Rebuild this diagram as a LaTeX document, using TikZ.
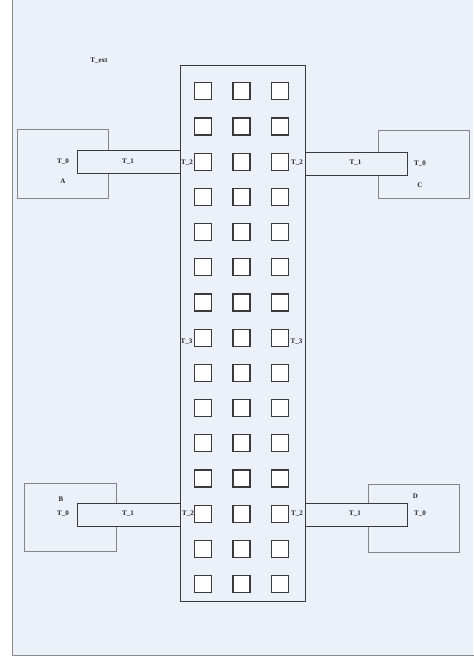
\documentclass[tikz,border=0pt]{standalone}
\usepackage{fontspec}
\setmainfont{Liberation Serif}
\definecolor{bgc}{HTML}{ECF0F8}
\definecolor{framec}{HTML}{8A8A8A}
\definecolor{boxc}{HTML}{858585}
\definecolor{darkc}{HTML}{3A3A3A}
\begin{document}
\begin{tikzpicture}[x=1pt,y=-1pt,
  lbl/.style={inner sep=0pt,font=\fontsize{7}{8}\selectfont\bfseries,text=black!85},
  outerbox/.style={draw=boxc,line width=0.9pt,fill=bgc},
  tube/.style={draw=darkc,line width=1pt,fill=bgc},
  cell/.style={draw=darkc,line width=1.2pt,fill=white,minimum size=17pt,inner sep=0pt}]
\useasboundingbox (0,0) rectangle (473,660);
% frame
\fill[white] (0,0) rectangle (473,660);
\fill[bgc] (12.5,0) rectangle (473,655.5);
\draw[framec,line width=1pt] (12.5,-5) -- (12.5,655.5) -- (480,655.5);
% outer boxes
\node[outerbox,anchor=north west,minimum width=91pt,minimum height=68.5pt,inner sep=0pt] (A) at (17,129.5) {};
\node[outerbox,anchor=north west,minimum width=91.5pt,minimum height=68pt,inner sep=0pt] (C) at (377.5,130.5) {};
\node[outerbox,anchor=north west,minimum width=91.5pt,minimum height=68pt,inner sep=0pt] (B) at (24,482.5) {};
\node[outerbox,anchor=north west,minimum width=91.5pt,minimum height=68pt,inner sep=0pt] (D) at (367.5,483.5) {};
% central block
\node[draw=darkc,line width=1.2pt,fill=bgc,anchor=north west,minimum width=125.5pt,minimum height=535.5pt,inner sep=0pt] (M) at (179.5,65) {};
% tubes
\node[tube,anchor=north west,minimum width=102.5pt,minimum height=22.5pt,inner sep=0pt] (tA) at (77,150.5) {};
\node[tube,anchor=north west,minimum width=102.5pt,minimum height=22.5pt,inner sep=0pt] (tB) at (77,503) {};
\node[tube,anchor=north west,minimum width=102.5pt,minimum height=23pt,inner sep=0pt] (tC) at (304.5,152.5) {};
\node[tube,anchor=north west,minimum width=102.5pt,minimum height=22.5pt,inner sep=0pt] (tD) at (304.5,503) {};
% cells
\foreach \r in {0,...,14}{
  \foreach \c/\cx in {1/203,2/241.5,3/279.8}{
    \node[cell] (s\r-\c) at (\cx,{91.3+35.2*\r}) {};
  }
}
% labels
\node[lbl] (text) at (99,61) {T\_ext};
\node[lbl] (a0) at (63,162) {T\_0};
\node[lbl] (a1) at (128,162) {T\_1};
\node[lbl] (aa) at (63,181) {A};
\node[lbl] (a2) at (187,163) {T\_2};
\node[lbl] (c2) at (297,162.5) {T\_2};
\node[lbl] (c1) at (355.5,162.5) {T\_1};
\node[lbl] (c0) at (420,164) {T\_0};
\node[lbl] (cc) at (420,185) {C};
\node[lbl] (l3) at (186.5,341.5) {T\_3};
\node[lbl] (r3) at (296.5,341.5) {T\_3};
\node[lbl] (bb) at (61,499) {B};
\node[lbl] (b0) at (63,513.5) {T\_0};
\node[lbl] (b1) at (128,513.5) {T\_1};
\node[lbl] (b2) at (188,513.5) {T\_2};
\node[lbl] (dd) at (415.5,496) {D};
\node[lbl] (d2) at (297,513.5) {T\_2};
\node[lbl] (d1) at (355,513.5) {T\_1};
\node[lbl] (d0) at (420,513.5) {T\_0};
\end{tikzpicture}
\end{document}
